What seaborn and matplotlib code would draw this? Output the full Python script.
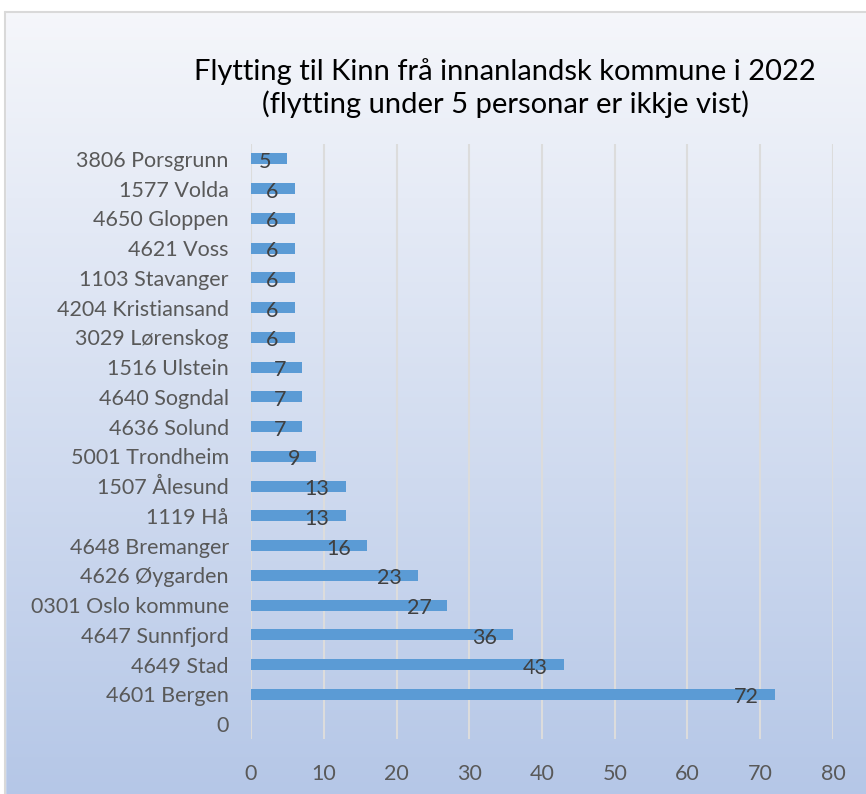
import numpy as np
import pandas as pd
import matplotlib
matplotlib.use("Agg")
import matplotlib.pyplot as plt
import seaborn as sns

# --- data ---
kommunar = ["3806 Porsgrunn", "1577 Volda", "4650 Gloppen", "4621 Voss",
            "1103 Stavanger", "4204 Kristiansand", "3029 Lørenskog", "1516 Ulstein",
            "4640 Sogndal", "4636 Solund", "5001 Trondheim", "1507 Ålesund",
            "1119 Hå", "4648 Bremanger", "4626 Øygarden", "0301 Oslo kommune",
            "4647 Sunnfjord", "4649 Stad", "4601 Bergen", "0"]
flyttingar = [5, 6, 6, 6, 6, 6, 6, 7, 7, 7, 9, 13, 13, 16, 23, 27, 36, 43, 72, 0]
x_ticks = [0, 10, 20, 30, 40, 50, 60, 70, 80]
tittel = "Flytting til Kinn frå innanlandsk kommune i 2022\n(flytting under 5 personar er ikkje vist)"

sns.set_theme(style="white")
plt.rcParams["font.family"] = ["Lato", "DejaVu Sans"]

df = pd.DataFrame({"kommune": kommunar, "antal": flyttingar})

fig = plt.figure(figsize=(8.66, 7.94), dpi=100)

# gradient background over the whole figure
bg = fig.add_axes([0, 0, 1, 1], zorder=0)
top = np.array([0.965, 0.969, 0.984])
bot = np.array([0.71, 0.78, 0.906])
t = np.linspace(0, 1, 256)[:, None]
grad = (top[None, :] * (1 - t) + bot[None, :] * t)[:, None, :]
bg.imshow(grad, aspect="auto", extent=[0, 1, 0, 1])
bg.set_xlim(0, 1)
bg.set_ylim(0, 1)
bg.axis("off")
# white strip above the chart frame and a light frame line
bg.fill_between([0, 1], 1 - 12 / 794, 1, color="white", zorder=2)
bg.fill_between([0, 5 / 866], 0, 1, color="white", zorder=2)
bg.plot([5 / 866, 1], [1 - 12 / 794] * 2, color="#d9d9d9", lw=1.5, zorder=3)
bg.plot([5 / 866] * 2, [0, 1 - 12 / 794], color="#d9d9d9", lw=1.5, zorder=3)

ax = fig.add_axes([251 / 866, 55 / 794, 582 / 866, 595 / 794], zorder=1)
ax.patch.set_alpha(0)
sns.barplot(data=df, x="antal", y="kommune", color="#5b9bd5", width=0.37,
            saturation=1, linewidth=0, ax=ax, zorder=3)

ax.set_xlim(0, 80)
ax.set_ylim(len(kommunar) - 0.5, -0.5)
ax.set_xticks(x_ticks)
ax.set_xlabel("")
ax.set_ylabel("")
for s in ax.spines.values():
    s.set_visible(False)
ax.grid(axis="x", color="#dcdcdc", lw=1.5, zorder=0)
ax.tick_params(axis="both", length=0, labelsize=15.5, labelcolor="#595959")
ax.tick_params(axis="x", pad=18)
ax.tick_params(axis="y", pad=16)

# labels sit just inside the bar end, like Excel's "inside end"
for i, v in enumerate(flyttingar):
    if v > 0:
        ax.annotate(str(v), (v, i), xytext=(-11.5, -2.2), textcoords="offset points",
                    ha="right", va="center", fontsize=15.5, color="#404040", zorder=4)

fig.text(505 / 866, 1 - 88 / 794, tittel, ha="center", va="center",
         fontsize=21, color="black", linespacing=1.2)

fig.savefig("out.png", dpi=100)
